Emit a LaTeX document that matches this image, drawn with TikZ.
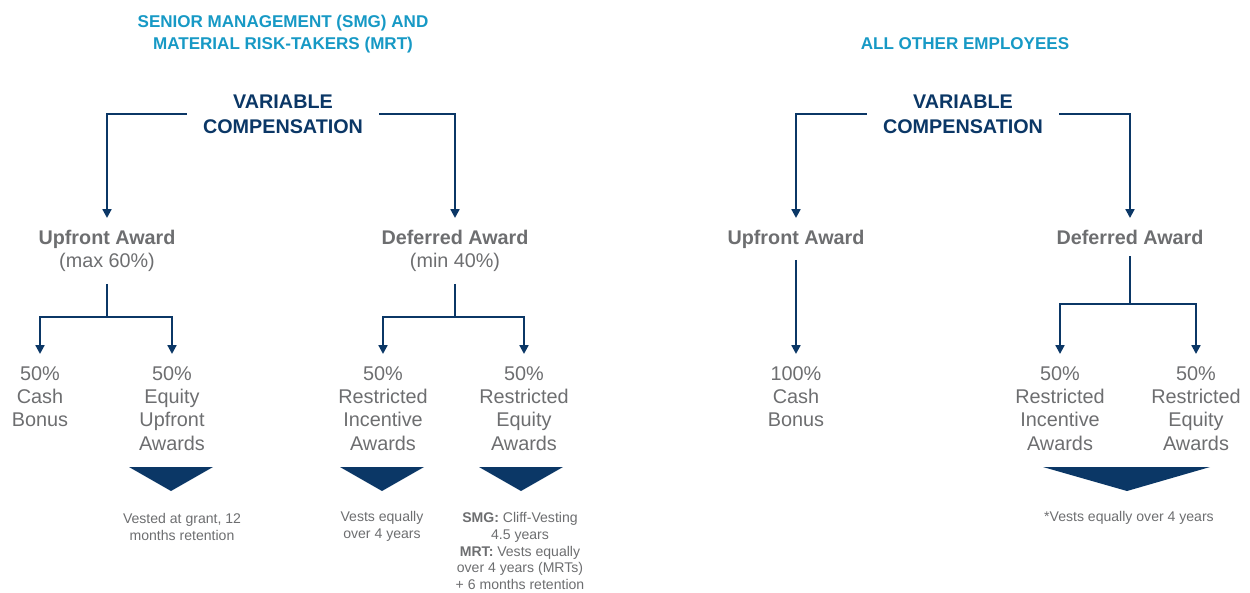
\documentclass[tikz,border=0pt]{standalone}
\usepackage{fontspec}
\setmainfont{Liberation Sans}
\usetikzlibrary{calc, arrows.meta}
\definecolor{navy}{HTML}{0B3766}
\definecolor{cyanc}{HTML}{1799C5}
\definecolor{grayc}{HTML}{6D6E70}

\begin{document}
\begin{tikzpicture}[x=0.02cm,y=-0.02cm,
    hdr/.style={font=\fontsize{9.7}{12.5}\selectfont\bfseries, text=cyanc, align=center},
    vc/.style={font=\fontsize{11.25}{14.2}\selectfont\bfseries, text=navy, align=center, inner xsep=9pt},
    award/.style={font=\fontsize{11.25}{13.6}\selectfont\bfseries, text=grayc, align=center, inner ysep=6.5pt, anchor=north},
    part/.style={font=\fontsize{11.3}{13.2}\selectfont, text=grayc, align=center, inner ysep=7pt, anchor=north},
    note/.style={font=\fontsize{8}{9.6}\selectfont, text=grayc, align=center},
    link/.style={draw=navy, line width=1.2pt},
    arr/.style={link, -{Triangle[length=5pt,width=5pt]}},
    wedge/.style={fill=navy}]
                \useasboundingbox (0,0) rectangle (1250,592);
                % left: SMG and MRT
                \node[hdr] (hdrL) at (283,34) {SENIOR MANAGEMENT (SMG) AND\\MATERIAL RISK-TAKERS (MRT)};
                \node[vc] (vcL) at (283,114) {VARIABLE\\COMPENSATION};
                \node[award] (upL) at (107,218) {Upfront Award\\\mdseries(max 60\%)};
                \node[award] (defL) at (455,218) {Deferred Award\\\mdseries(min 40\%)};
                \draw[arr] (vcL.west) -| (upL.north);
                \draw[arr] (vcL.east) -| (defL.north);
                \node[part] (cashL) at (40,354) {50\%\\Cash\\Bonus};
                \node[part] (equL) at (172,354) {50\%\\Equity\\Upfront\\Awards};
                \node[part] (rinL) at (383,354) {50\%\\Restricted\\Incentive\\Awards};
                \node[part] (reqL) at (524,354) {50\%\\Restricted\\Equity\\Awards};
                \coordinate (sL) at (107,317);
                \coordinate (dL) at (455,317);
                \draw[link] (upL.south) -- (sL);
                \draw[arr] (sL) -| (cashL.north);
                \draw[arr] (sL) -| (equL.north);
                \draw[link] (defL.south) -- (dL);
                \draw[arr] (dL) -| (rinL.north);
                \draw[arr] (dL) -| (reqL.north);
                \fill[wedge] (129,467) -- (213,467) -- (171,491) -- cycle;
                \fill[wedge] (340,467) -- (424,467) -- (382,491) -- cycle;
                \fill[wedge] (479,467) -- (563,467) -- (521,491) -- cycle;
                \node[note] (nEqu) at (182,527) {Vested at grant, 12\\months retention};
                \node[note] (nRin) at (382,526) {Vests equally\\over 4 years};
                \node[note] (nReq) at (520,551) {\textbf{SMG:} Cliff-Vesting\\4.5 years\\\textbf{MRT:} Vests equally\\over 4 years (MRTs)\\+ 6 months retention};
                % right: all other employees
                \node[hdr] (hdrR) at (965,44) {ALL OTHER EMPLOYEES};
                \node[vc] (vcR) at (963,114) {VARIABLE\\COMPENSATION};
                \node[award] (upR) at (796,218) {Upfront Award};
                \node[award] (defR) at (1130,218) {Deferred Award};
                \draw[arr] (vcR.west) -| (upR.north);
                \draw[arr] (vcR.east) -| (defR.north);
                \node[part] (cashR) at (796,354) {100\%\\Cash\\Bonus};
                \node[part] (rinR) at (1060,354) {50\%\\Restricted\\Incentive\\Awards};
                \node[part] (reqR) at (1196,354) {50\%\\Restricted\\Equity\\Awards};
                \draw[arr] (upR.south) -- (cashR.north);
                \coordinate (dR) at (1130,304);
                \draw[link] (defR.south) -- (dR);
                \draw[arr] (dR) -| (rinR.north);
                \draw[arr] (dR) -| (reqR.north);
                \fill[wedge] (1043,467) -- (1210,467) -- (1127,491) -- cycle;
                \node[note] (nAll) at (1129,518) {*Vests equally over 4 years};
            \end{tikzpicture}
\end{document}
